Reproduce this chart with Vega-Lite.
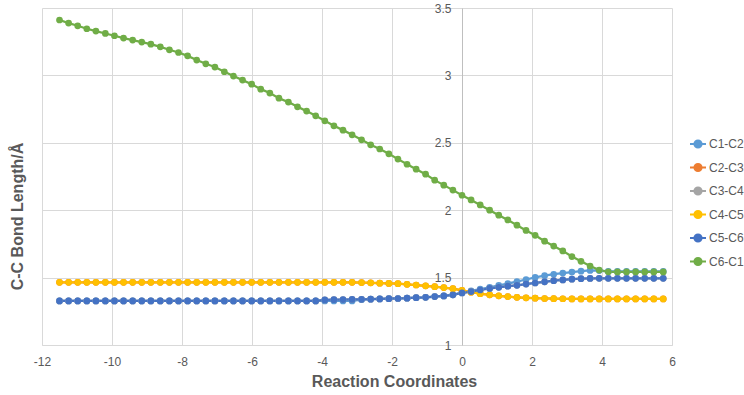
{
  "$schema": "https://vega.github.io/schema/vega-lite/v6.json",
  "width": 630,
  "height": 337,
  "autosize": {"type": "none"},
  "padding": {"left": 42, "top": 8, "right": 72, "bottom": 50},
  "background": "white",
  "config": {"view": {"stroke": null}, "font": "Liberation Sans"},
  "data": {"values": [
    {"x": -11.50, "C1-C2": 1.327, "C2-C3": 1.465, "C3-C4": 1.327, "C4-C5": 1.465, "C5-C6": 1.327, "C6-C1": 3.411},
    {"x": -11.24, "C1-C2": 1.327, "C2-C3": 1.465, "C3-C4": 1.327, "C4-C5": 1.465, "C5-C6": 1.327, "C6-C1": 3.388},
    {"x": -10.98, "C1-C2": 1.327, "C2-C3": 1.465, "C3-C4": 1.327, "C4-C5": 1.465, "C5-C6": 1.327, "C6-C1": 3.368},
    {"x": -10.72, "C1-C2": 1.327, "C2-C3": 1.465, "C3-C4": 1.327, "C4-C5": 1.465, "C5-C6": 1.327, "C6-C1": 3.346},
    {"x": -10.46, "C1-C2": 1.327, "C2-C3": 1.465, "C3-C4": 1.327, "C4-C5": 1.465, "C5-C6": 1.327, "C6-C1": 3.329},
    {"x": -10.19, "C1-C2": 1.327, "C2-C3": 1.465, "C3-C4": 1.327, "C4-C5": 1.465, "C5-C6": 1.327, "C6-C1": 3.311},
    {"x": -9.93, "C1-C2": 1.327, "C2-C3": 1.465, "C3-C4": 1.327, "C4-C5": 1.465, "C5-C6": 1.327, "C6-C1": 3.294},
    {"x": -9.67, "C1-C2": 1.327, "C2-C3": 1.465, "C3-C4": 1.327, "C4-C5": 1.465, "C5-C6": 1.327, "C6-C1": 3.277},
    {"x": -9.41, "C1-C2": 1.327, "C2-C3": 1.465, "C3-C4": 1.327, "C4-C5": 1.465, "C5-C6": 1.327, "C6-C1": 3.262},
    {"x": -9.15, "C1-C2": 1.327, "C2-C3": 1.465, "C3-C4": 1.327, "C4-C5": 1.465, "C5-C6": 1.327, "C6-C1": 3.247},
    {"x": -8.89, "C1-C2": 1.327, "C2-C3": 1.465, "C3-C4": 1.327, "C4-C5": 1.465, "C5-C6": 1.327, "C6-C1": 3.232},
    {"x": -8.62, "C1-C2": 1.327, "C2-C3": 1.465, "C3-C4": 1.327, "C4-C5": 1.465, "C5-C6": 1.327, "C6-C1": 3.212},
    {"x": -8.36, "C1-C2": 1.327, "C2-C3": 1.465, "C3-C4": 1.327, "C4-C5": 1.465, "C5-C6": 1.327, "C6-C1": 3.190},
    {"x": -8.10, "C1-C2": 1.327, "C2-C3": 1.465, "C3-C4": 1.327, "C4-C5": 1.465, "C5-C6": 1.327, "C6-C1": 3.170},
    {"x": -7.84, "C1-C2": 1.327, "C2-C3": 1.465, "C3-C4": 1.327, "C4-C5": 1.465, "C5-C6": 1.327, "C6-C1": 3.145},
    {"x": -7.58, "C1-C2": 1.327, "C2-C3": 1.465, "C3-C4": 1.327, "C4-C5": 1.465, "C5-C6": 1.327, "C6-C1": 3.114},
    {"x": -7.32, "C1-C2": 1.327, "C2-C3": 1.465, "C3-C4": 1.327, "C4-C5": 1.465, "C5-C6": 1.327, "C6-C1": 3.086},
    {"x": -7.06, "C1-C2": 1.327, "C2-C3": 1.465, "C3-C4": 1.327, "C4-C5": 1.465, "C5-C6": 1.327, "C6-C1": 3.062},
    {"x": -6.79, "C1-C2": 1.327, "C2-C3": 1.465, "C3-C4": 1.327, "C4-C5": 1.465, "C5-C6": 1.327, "C6-C1": 3.027},
    {"x": -6.53, "C1-C2": 1.327, "C2-C3": 1.465, "C3-C4": 1.327, "C4-C5": 1.465, "C5-C6": 1.327, "C6-C1": 2.995},
    {"x": -6.27, "C1-C2": 1.327, "C2-C3": 1.465, "C3-C4": 1.327, "C4-C5": 1.465, "C5-C6": 1.327, "C6-C1": 2.965},
    {"x": -6.01, "C1-C2": 1.327, "C2-C3": 1.465, "C3-C4": 1.327, "C4-C5": 1.465, "C5-C6": 1.327, "C6-C1": 2.935},
    {"x": -5.75, "C1-C2": 1.327, "C2-C3": 1.465, "C3-C4": 1.327, "C4-C5": 1.465, "C5-C6": 1.327, "C6-C1": 2.898},
    {"x": -5.49, "C1-C2": 1.327, "C2-C3": 1.465, "C3-C4": 1.327, "C4-C5": 1.465, "C5-C6": 1.327, "C6-C1": 2.869},
    {"x": -5.23, "C1-C2": 1.327, "C2-C3": 1.465, "C3-C4": 1.327, "C4-C5": 1.465, "C5-C6": 1.327, "C6-C1": 2.831},
    {"x": -4.96, "C1-C2": 1.327, "C2-C3": 1.465, "C3-C4": 1.327, "C4-C5": 1.465, "C5-C6": 1.327, "C6-C1": 2.802},
    {"x": -4.70, "C1-C2": 1.327, "C2-C3": 1.465, "C3-C4": 1.327, "C4-C5": 1.465, "C5-C6": 1.327, "C6-C1": 2.767},
    {"x": -4.44, "C1-C2": 1.327, "C2-C3": 1.465, "C3-C4": 1.327, "C4-C5": 1.465, "C5-C6": 1.327, "C6-C1": 2.735},
    {"x": -4.18, "C1-C2": 1.327, "C2-C3": 1.465, "C3-C4": 1.327, "C4-C5": 1.465, "C5-C6": 1.327, "C6-C1": 2.700},
    {"x": -3.92, "C1-C2": 1.327, "C2-C3": 1.465, "C3-C4": 1.334, "C4-C5": 1.465, "C5-C6": 1.334, "C6-C1": 2.663},
    {"x": -3.66, "C1-C2": 1.327, "C2-C3": 1.465, "C3-C4": 1.336, "C4-C5": 1.465, "C5-C6": 1.336, "C6-C1": 2.626},
    {"x": -3.40, "C1-C2": 1.327, "C2-C3": 1.465, "C3-C4": 1.337, "C4-C5": 1.465, "C5-C6": 1.337, "C6-C1": 2.594},
    {"x": -3.14, "C1-C2": 1.327, "C2-C3": 1.465, "C3-C4": 1.338, "C4-C5": 1.465, "C5-C6": 1.338, "C6-C1": 2.559},
    {"x": -2.87, "C1-C2": 1.336, "C2-C3": 1.463, "C3-C4": 1.339, "C4-C5": 1.463, "C5-C6": 1.339, "C6-C1": 2.522},
    {"x": -2.61, "C1-C2": 1.340, "C2-C3": 1.461, "C3-C4": 1.340, "C4-C5": 1.461, "C5-C6": 1.340, "C6-C1": 2.485},
    {"x": -2.35, "C1-C2": 1.342, "C2-C3": 1.459, "C3-C4": 1.342, "C4-C5": 1.459, "C5-C6": 1.342, "C6-C1": 2.454},
    {"x": -2.09, "C1-C2": 1.344, "C2-C3": 1.457, "C3-C4": 1.344, "C4-C5": 1.457, "C5-C6": 1.344, "C6-C1": 2.418},
    {"x": -1.83, "C1-C2": 1.345, "C2-C3": 1.455, "C3-C4": 1.345, "C4-C5": 1.455, "C5-C6": 1.345, "C6-C1": 2.379},
    {"x": -1.57, "C1-C2": 1.347, "C2-C3": 1.450, "C3-C4": 1.347, "C4-C5": 1.450, "C5-C6": 1.347, "C6-C1": 2.341},
    {"x": -1.31, "C1-C2": 1.351, "C2-C3": 1.445, "C3-C4": 1.351, "C4-C5": 1.445, "C5-C6": 1.351, "C6-C1": 2.304},
    {"x": -1.04, "C1-C2": 1.354, "C2-C3": 1.439, "C3-C4": 1.354, "C4-C5": 1.439, "C5-C6": 1.354, "C6-C1": 2.267},
    {"x": -0.78, "C1-C2": 1.359, "C2-C3": 1.433, "C3-C4": 1.359, "C4-C5": 1.433, "C5-C6": 1.359, "C6-C1": 2.223},
    {"x": -0.52, "C1-C2": 1.364, "C2-C3": 1.426, "C3-C4": 1.364, "C4-C5": 1.426, "C5-C6": 1.364, "C6-C1": 2.186},
    {"x": -0.26, "C1-C2": 1.372, "C2-C3": 1.418, "C3-C4": 1.372, "C4-C5": 1.418, "C5-C6": 1.372, "C6-C1": 2.149},
    {"x": 0.00, "C1-C2": 1.388, "C2-C3": 1.405, "C3-C4": 1.386, "C4-C5": 1.405, "C5-C6": 1.386, "C6-C1": 2.111},
    {"x": 0.26, "C1-C2": 1.401, "C2-C3": 1.392, "C3-C4": 1.396, "C4-C5": 1.392, "C5-C6": 1.396, "C6-C1": 2.076},
    {"x": 0.52, "C1-C2": 1.414, "C2-C3": 1.381, "C3-C4": 1.408, "C4-C5": 1.381, "C5-C6": 1.408, "C6-C1": 2.039},
    {"x": 0.79, "C1-C2": 1.428, "C2-C3": 1.372, "C3-C4": 1.420, "C4-C5": 1.372, "C5-C6": 1.420, "C6-C1": 2.000},
    {"x": 1.05, "C1-C2": 1.442, "C2-C3": 1.365, "C3-C4": 1.428, "C4-C5": 1.365, "C5-C6": 1.428, "C6-C1": 1.963},
    {"x": 1.31, "C1-C2": 1.456, "C2-C3": 1.359, "C3-C4": 1.436, "C4-C5": 1.359, "C5-C6": 1.436, "C6-C1": 1.928},
    {"x": 1.57, "C1-C2": 1.470, "C2-C3": 1.354, "C3-C4": 1.443, "C4-C5": 1.354, "C5-C6": 1.443, "C6-C1": 1.889},
    {"x": 1.83, "C1-C2": 1.486, "C2-C3": 1.350, "C3-C4": 1.452, "C4-C5": 1.350, "C5-C6": 1.452, "C6-C1": 1.850},
    {"x": 2.09, "C1-C2": 1.501, "C2-C3": 1.347, "C3-C4": 1.460, "C4-C5": 1.347, "C5-C6": 1.460, "C6-C1": 1.814},
    {"x": 2.36, "C1-C2": 1.514, "C2-C3": 1.345, "C3-C4": 1.469, "C4-C5": 1.345, "C5-C6": 1.469, "C6-C1": 1.770},
    {"x": 2.62, "C1-C2": 1.525, "C2-C3": 1.344, "C3-C4": 1.477, "C4-C5": 1.344, "C5-C6": 1.477, "C6-C1": 1.734},
    {"x": 2.88, "C1-C2": 1.534, "C2-C3": 1.343, "C3-C4": 1.483, "C4-C5": 1.343, "C5-C6": 1.483, "C6-C1": 1.698},
    {"x": 3.14, "C1-C2": 1.541, "C2-C3": 1.342, "C3-C4": 1.488, "C4-C5": 1.342, "C5-C6": 1.488, "C6-C1": 1.656},
    {"x": 3.40, "C1-C2": 1.548, "C2-C3": 1.342, "C3-C4": 1.492, "C4-C5": 1.342, "C5-C6": 1.492, "C6-C1": 1.621},
    {"x": 3.66, "C1-C2": 1.553, "C2-C3": 1.342, "C3-C4": 1.494, "C4-C5": 1.342, "C5-C6": 1.494, "C6-C1": 1.586},
    {"x": 3.92, "C1-C2": 1.552, "C2-C3": 1.342, "C3-C4": 1.495, "C4-C5": 1.342, "C5-C6": 1.495, "C6-C1": 1.556},
    {"x": 4.18, "C1-C2": 1.546, "C2-C3": 1.342, "C3-C4": 1.495, "C4-C5": 1.342, "C5-C6": 1.495, "C6-C1": 1.543},
    {"x": 4.44, "C1-C2": 1.546, "C2-C3": 1.342, "C3-C4": 1.495, "C4-C5": 1.342, "C5-C6": 1.495, "C6-C1": 1.542},
    {"x": 4.70, "C1-C2": 1.546, "C2-C3": 1.342, "C3-C4": 1.495, "C4-C5": 1.342, "C5-C6": 1.495, "C6-C1": 1.542},
    {"x": 4.96, "C1-C2": 1.546, "C2-C3": 1.342, "C3-C4": 1.495, "C4-C5": 1.342, "C5-C6": 1.495, "C6-C1": 1.542},
    {"x": 5.22, "C1-C2": 1.546, "C2-C3": 1.342, "C3-C4": 1.495, "C4-C5": 1.342, "C5-C6": 1.495, "C6-C1": 1.542},
    {"x": 5.48, "C1-C2": 1.546, "C2-C3": 1.342, "C3-C4": 1.495, "C4-C5": 1.342, "C5-C6": 1.495, "C6-C1": 1.542},
    {"x": 5.75, "C1-C2": 1.546, "C2-C3": 1.342, "C3-C4": 1.495, "C4-C5": 1.342, "C5-C6": 1.495, "C6-C1": 1.542}
  ]},
  "transform": [{"fold": ["C1-C2", "C2-C3", "C3-C4", "C4-C5", "C5-C6", "C6-C1"], "as": ["series", "len"]}],
  "encoding": {
    "x": {
      "field": "x", "type": "quantitative",
      "scale": {"domain": [-12, 6], "nice": false, "zero": false},
      "axis": {
        "values": [-12, -10, -8, -6, -4, -2, 0, 2, 4, 6],
        "labelExpr": "'' + datum.value",
        "title": "Reaction Coordinates",
        "ticks": false, "labelPadding": 11, "labelFlush": false,
        "labelFontSize": 12, "labelColor": "#595959",
        "gridColor": "#d9d9d9", "domainColor": "#d9d9d9",
        "titleFontSize": 16, "titleColor": "#595959", "titleFontWeight": "bold",
        "titleX": 352, "titleY": 36, "titleBaseline": "middle", "titleAlign": "center"
      }
    },
    "y": {
      "field": "len", "type": "quantitative",
      "scale": {"domain": [1, 3.5], "nice": false, "zero": false},
      "axis": {
        "values": [1, 1.5, 2, 2.5, 3, 3.5],
        "format": ".1~f",
        "offset": -420,
        "title": "C-C Bond Length/Å",
        "ticks": false, "labelPadding": 11, "labelFlush": false,
        "labelFontSize": 12, "labelColor": "#595959",
        "gridColor": "#d9d9d9", "domainColor": "#bfbfbf",
        "titleFontSize": 16, "titleColor": "#595959", "titleFontWeight": "bold",
        "titleX": -445, "titleY": 208, "titleBaseline": "middle", "titleAlign": "center", "titleAngle": -90
      }
    },
    "color": {
      "field": "series", "type": "nominal",
      "scale": {
        "domain": ["C1-C2", "C2-C3", "C3-C4", "C4-C5", "C5-C6", "C6-C1"],
        "range": ["#5B9BD5", "#ED7D31", "#A5A5A5", "#FFC000", "#4472C4", "#70AD47"]
      },
      "legend": {
        "orient": "none", "legendX": 647, "legendY": 127, "title": null,
        "symbolType": "M-1,0L1,0M-0.45,0A0.45,0.45,0,1,1,0.45,0A0.45,0.45,0,1,1,-0.45,0Z",
        "symbolSize": 256, "symbolStrokeWidth": 2,
        "labelFontSize": 12, "labelColor": "#595959", "labelOffset": 2,
        "rowPadding": 6.5,
        "encode": {"symbols": {"update": {"fill": {"scale": "color", "field": "value"}, "stroke": {"scale": "color", "field": "value"}, "opacity": {"value": 1}}}}
      }
    }
  },
  "layer": [
    {"mark": {"type": "line", "strokeWidth": 2.25}},
    {"mark": {"type": "point", "filled": true, "size": 45, "opacity": 1}, "encoding": {"order": {"field": "series"}}}
  ]
}
